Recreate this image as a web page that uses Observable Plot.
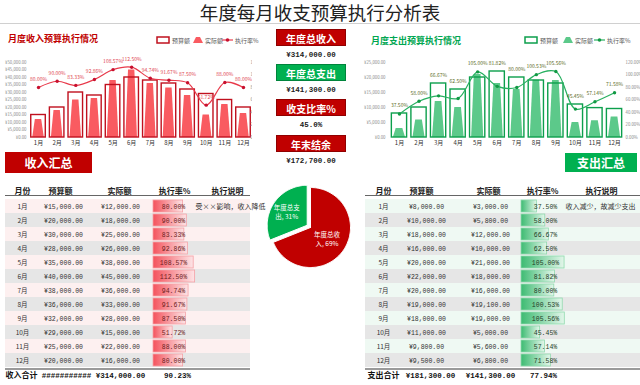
<!DOCTYPE html>
<html><head><meta charset="utf-8">
<script src="https://cdn.jsdelivr.net/npm/d3@7"></script>
<script src="https://cdn.jsdelivr.net/npm/@observablehq/plot@0.6"></script>
<style>
body{margin:0;width:640px;height:385px;background:#fff;position:relative;overflow:hidden;font-family:"Noto Sans CJK SC",sans-serif;}
.abs{position:absolute;}
.title{left:0;top:0;width:640px;text-align:center;font-size:18.5px;line-height:25px;color:#222;}
.hline{height:0;}
.ctitle{font-size:9px;font-weight:bold;line-height:13px;white-space:nowrap;}
.btn{color:#fff;text-align:center;font-size:12px;font-weight:bold;}
.kpi{left:276px;width:70px;height:17px;line-height:17px;color:#fff;text-align:center;font-size:10px;font-weight:bold;box-sizing:border-box;border:1px solid rgba(0,0,0,0.25);}
.kval{left:266px;width:90px;text-align:center;font-family:"Liberation Mono","Noto Sans CJK SC",monospace;font-weight:bold;font-size:7.5px;line-height:11px;color:#222;}
svg{display:block;}
</style></head><body>
<script>
// ---------------- data ----------------
const months = ["1月","2月","3月","4月","5月","6月","7月","8月","9月","10月","11月","12月"];
const incomeBudget = [15000,20000,30000,28000,35000,40000,38000,36000,32000,29000,25000,20000];
const incomeActual = [12000,18000,25000,26000,38000,45000,36000,33000,28000,15000,22000,16000];
const incomeNotes = ["受××影响，收入降低","","","","","","","","","","",""];
const expenseBudget = [8000,10000,18000,16000,20000,22000,20000,19000,18000,11000,9800,9500];
const expenseActual = [3000,5800,12000,10000,21000,18000,16000,19100,19000,5000,5600,6800];
const expenseNotes = ["收入减少，故减少支出","","","","","","","","","","",""];
const incomeTicks = [0,5000,10000,15000,20000,25000,30000,35000,40000,45000,50000];
const expenseTicks = [0,5000,10000,15000,20000,25000];
const rateTicks = [0,0.2,0.4,0.6,0.8,1.0,1.2];
const tableHeaders = ["月份","预算额","实际额","执行率%","执行说明"];
const pieNames = ["年度总收入","年度总支出"];

// ---------------- helpers ----------------
const CJK = '"Noto Sans CJK SC", sans-serif';
const MONO = '"Liberation Mono", "Noto Sans CJK SC", monospace';
const money = v => "¥" + d3.format(",.2f")(v);
const pct = r => (r * 100).toFixed(2) + "%";
function add(el, left, top) {
  el.style.position = "absolute"; el.style.left = left + "px"; el.style.top = top + "px";
  document.body.appendChild(el); return el;
}
function div(cls, html, css) {
  const d = document.createElement("div"); d.className = "abs " + cls; d.innerHTML = html;
  Object.assign(d.style, css || {}); document.body.appendChild(d); return d;
}
function addGradient(svg, id, c0, c1) {
  const ns = "http://www.w3.org/2000/svg";
  const defs = document.createElementNS(ns, "defs");
  const g = document.createElementNS(ns, "linearGradient");
  g.setAttribute("id", id); g.setAttribute("x1", "0"); g.setAttribute("x2", "1"); g.setAttribute("y1", "0"); g.setAttribute("y2", "0");
  [[0, c0], [1, c1]].forEach(([o, c]) => {
    const s = document.createElementNS(ns, "stop"); s.setAttribute("offset", o); s.setAttribute("stop-color", c); g.appendChild(s);
  });
  defs.appendChild(g); svg.insertBefore(defs, svg.firstChild);
}

const totalIncome = d3.sum(incomeActual);
const totalExpense = d3.sum(expenseActual);

// ---------------- static layout ----------------
div("title", "年度每月收支预算执行分析表");
div("hline", "", {left: "0px", top: "23px", width: "640px", borderTop: "1px solid #d0d0d0"});
div("ctitle", "月度收入预算执行情况", {left: "8px", top: "32px", color: "#c00000"});
div("ctitle", "月度支出预算执行情况", {left: "371px", top: "34px", color: "#00a651"});
div("btn", "收入汇总", {left: "5px", top: "152px", width: "87px", height: "21px", lineHeight: "21px", background: "#c00000"});
div("btn", "支出汇总", {left: "565px", top: "153px", width: "72px", height: "19px", lineHeight: "19px", background: "#00b050"});

// KPI boxes
const kpis = [
  {label: "年度总收入", color: "#c00000", value: money(totalIncome)},
  {label: "年度总支出", color: "#00b050", value: money(totalExpense)},
  {label: "收支比率%", color: "#c00000", value: (totalExpense / totalIncome * 100).toFixed(1) + "%"},
  {label: "年末结余", color: "#c00000", value: money(totalIncome - totalExpense)}
];
const kpiTops = [29, 64, 99, 135];
kpis.forEach((k, i) => {
  div("kpi", k.label, {top: kpiTops[i] + "px", background: k.color});
  div("kval", k.value, {top: (kpiTops[i] + 21) + "px"});
});

// legends
function legend(left, top, c, pos) {
  const s = `<svg width="125" height="12" style="overflow:visible">
    <rect x="${pos[0]}" y="3" width="12" height="6" fill="none" stroke="${c.budget}" stroke-width="1.5"/>
    <text x="${pos[1]}" y="9" font-size="6" fill="#595959">预算额</text>
    <path d="M${pos[2]} 9 L${pos[2]+3} 3 L${pos[2]+7} 3 L${pos[2]+10} 9 Z" fill="${c.actual}"/>
    <text x="${pos[3]}" y="9" font-size="6" fill="#595959">实际额</text>
    <line x1="${pos[4]}" x2="${pos[4]+11}" y1="6" y2="6" stroke="${c.line}" stroke-width="1.2"/>
    <circle cx="${pos[4]+5.5}" cy="6" r="1.8" fill="${c.dot}"/>
    <text x="${pos[5]}" y="9" font-size="6" fill="#595959">执行率%</text></svg>`;
  const d = document.createElement("div"); d.innerHTML = s; add(d, left, top);
}

// ---------------- month charts ----------------
function monthChart(o) {
  const rows = months.map((m, i) => ({i: i + 1, m, b: o.budget[i], a: o.actual[i], r: o.actual[i] / o.budget[i]}));
  const k = o.yMax / 1.2;
  const trap = rows.flatMap(d => [
    {m: d.m, x: d.i - 0.31, y: 0}, {m: d.m, x: d.i - 0.17, y: d.a},
    {m: d.m, x: d.i + 0.17, y: d.a}, {m: d.m, x: d.i + 0.31, y: 0}]);
  const labelY = d => o.labelMax ? Math.max(d.r * k, d.b) : d.r * k;
  const plot = Plot.plot({
    width: o.width, height: 100, marginTop: 12, marginBottom: 13,
    marginLeft: o.axisLeft, marginRight: o.width - o.axisRight,
    x: {type: "linear", domain: [0.5, 12.5], range: o.xRange},
    y: {domain: [0, o.yMax]},
    style: {background: "transparent", fontFamily: CJK, overflow: "hidden"},
    marks: [
      Plot.areaY(trap, {x: "x", y1: 0, y2: "y", z: "m", fill: o.c.actual, curve: "linear"}),
      Plot.rectY(rows, {x1: d => d.i - 0.39, x2: d => d.i + 0.39, y1: 0, y2: "b", fill: "none", stroke: o.c.budget, strokeWidth: 1.4}),
      Plot.line(rows, {x: "i", y: d => d.r * k, stroke: o.c.line, strokeWidth: 1.2, curve: "catmull-rom"}),
      Plot.dot(rows, {x: "i", y: d => d.r * k, r: 1.7, fill: o.c.dot, stroke: "none"}),
      Plot.text(rows, {x: "i", y: labelY, text: d => pct(d.r), dy: -8, fill: o.c.label, fontSize: 5}),
      Plot.axisY(o.yTicks, {anchor: "left", tickSize: 0, tickPadding: 2, fontSize: 4.3, fill: "#8a8a8a", tickFormat: money}),
      Plot.axisY(rateTicks.map(r => r * k), {anchor: "right", tickSize: 0, tickPadding: 2, fontSize: 4.3, fill: "#8a8a8a", tickFormat: v => pct(v / k)}),
      Plot.axisX(d3.range(1, 13), {tickSize: 0, tickPadding: 3, fontSize: 6, fill: "#333", tickFormat: i => months[i - 1]})
    ]
  });
  return plot;
}
const redC = {budget: "#c0101e", actual: "#f95b61", line: "#e8394a", dot: "#c8102e", label: "#e0454f"};
const greenC = {budget: "#0c9f4c", actual: "#5cc98a", line: "#28b060", dot: "#119944", label: "#5c6b25"};

add(monthChart({budget: incomeBudget, actual: incomeActual, yMax: 50000, yTicks: incomeTicks, width: 252,
  axisLeft: 28, axisRight: 248, xRange: [28.7, 252.3], c: redC, labelMax: false}), 0, 50);
add(monthChart({budget: expenseBudget, actual: expenseActual, yMax: 25000, yTicks: expenseTicks, width: 280,
  axisLeft: 27, axisRight: 263, xRange: [29.2, 263.8], c: greenC, labelMax: true}), 360, 50);
legend(150, 34, redC, [7, 22, 43, 55, 72, 85]);
legend(520, 34, greenC, [5, 20, 43, 55, 74, 87]);

// ---------------- tables ----------------
function table(o) {
  const rows = months.map((m, i) => ({m, b: o.budget[i], a: o.actual[i], r: o.actual[i] / o.budget[i], note: o.notes[i], odd: i % 2 === 0}));
  const sumB = d3.sum(o.budget), sumA = d3.sum(o.actual);
  const hdr = tableHeaders.map((t, i) => ({t, x: o.cols.header[i]}));
  const tot = [
    {t: o.budgetTotal ? o.budgetTotal : money(sumB), x: o.cols.tot[0]},
    {t: money(sumA), x: o.cols.tot[1]},
    {t: pct(sumA / sumB), x: o.cols.tot[2]}
  ];
  const txt = {fontSize: 6.5, fill: "#333"};
  const plot = Plot.plot({
    width: o.W, height: 207, margin: 0,
    x: {type: "linear", domain: [0, o.W], range: [0, o.W], axis: null},
    y: {type: "band", domain: months, range: [18, 191], padding: 0, axis: null},
    style: {background: "transparent", fontFamily: CJK, overflow: "visible"},
    marks: [
      Plot.barX(rows.filter(d => d.odd), {y: "m", x1: 5, x2: o.rowX2, fill: o.oddFill}),
      Plot.barX(rows.filter(d => !d.odd), {y: "m", x1: 5, x2: o.rowX2, fill: "#e6e6e6"}),
      Plot.barX(rows, {y: "m", x1: o.barStart, x2: d => o.barStart + d.r * o.barK, insetTop: 1, insetBottom: 1,
        fill: `url(#${o.gradId})`, stroke: o.barStroke, strokeWidth: 0.8}),
      Plot.text(rows, {y: "m", x: o.cols.month, text: "m", ...txt}),
      Plot.text(rows, {y: "m", x: o.cols.budget, text: d => money(d.b), fontFamily: MONO, ...txt}),
      Plot.text(rows, {y: "m", x: o.cols.actual, text: d => money(d.a), fontFamily: MONO, ...txt}),
      Plot.text(rows, {y: "m", x: o.cols.rate, text: d => pct(d.r), fontFamily: MONO, fontSize: 6.5, fill: o.rateColor}),
      Plot.text(rows, {y: "m", x: o.cols.note, text: "note", textAnchor: "start", fontSize: 7, fill: "#333"}),
      Plot.text(hdr, {x: "x", text: "t", frameAnchor: "top", dy: 10, fontSize: 8, fontWeight: "bold", fill: "#222"}),
      Plot.text([o.totalLabel], {x: o.cols.totLabel, text: d => d, frameAnchor: "bottom", dy: -8, textAnchor: "start", fontSize: 8, fontWeight: "bold", fill: "#111"}),
      Plot.text(tot, {x: "x", text: "t", frameAnchor: "bottom", dy: -8, fontFamily: MONO, fontSize: 7.5, fontWeight: "bold", fill: "#111"})
    ]
  });
  addGradient(plot, o.gradId, o.g0, o.g1);
  return plot;
}
add(table({budget: incomeBudget, actual: incomeActual, notes: incomeNotes, W: 265, rowX2: 250,
  cols: {month: 22, budget: 63, actual: 120, rate: 173, note: 195, header: [22, 60, 119, 174, 227], totLabel: 5, tot: [66, 120, 177]},
  barStart: 153, barK: 37, oddFill: "#fdf0f0", gradId: "gradRed", g0: "#f4525c", g1: "#fde4e6", barStroke: "#f5a0a5",
  rateColor: "#6b1c1c", totalLabel: "收入合计", budgetTotal: "###########"}), 0, 178);
add(table({budget: expenseBudget, actual: expenseActual, notes: expenseNotes, W: 280, rowX2: 280,
  cols: {month: 23, budget: 66, actual: 130, rate: 185, note: 205, header: [23, 61, 128, 182, 241], totLabel: 7, tot: [70, 130, 183]},
  barStart: 161, barK: 41, oddFill: "#eff9f3", gradId: "gradGreen", g0: "#3dbb72", g1: "#e3f6ea", barStroke: "#8fd9ad",
  rateColor: "#1e3d28", totalLabel: "支出合计"}), 360, 178);
div("hline", "", {left: "5px", top: "195px", width: "245px", borderTop: "1px solid #666"});
div("hline", "", {left: "365px", top: "195px", width: "275px", borderTop: "1px solid #666"});
div("hline", "", {left: "5px", top: "368px", width: "245px", borderTop: "2px solid #9a9a9a"});
div("hline", "", {left: "365px", top: "368px", width: "275px", borderTop: "2px solid #9a9a9a"});

// ---------------- pie ----------------
(function () {
  const vals = [totalIncome, totalExpense];
  const colors = ["#c00000", "#00b050"];
  const explode = [0, 0.1];
  const sum = d3.sum(vals);
  let a0 = 0;
  const slices = vals.map((v, j) => {
    const a1 = a0 + v / sum * 2 * Math.PI;
    const mid = (a0 + a1) / 2;
    const ox = explode[j] * Math.sin(mid), oy = explode[j] * Math.cos(mid);
    const n = Math.ceil((a1 - a0) / 0.03);
    const pts = [{x: ox, y: oy}];
    for (let s = 0; s <= n; s++) { const a = a0 + (a1 - a0) * s / n; pts.push({x: ox + Math.sin(a), y: oy + Math.cos(a)}); }
    pts.push({x: ox, y: oy});
    const lr = j === 0 ? 0.5 : 0.62;
    const s = {pts, color: colors[j], lx: ox + lr * Math.sin(mid), ly: oy + lr * Math.cos(mid),
      label: pieNames[j].slice(0, 4) + "\n" + pieNames[j].slice(4) + ", " + Math.round(v / sum * 100) + "%"};
    a0 = a1;
    return s;
  });
  const plot = Plot.plot({
    width: 88, height: 88, margin: 0,
    x: {domain: [-1.1, 1.1], range: [0, 88], axis: null},
    y: {domain: [-1.1, 1.1], range: [88, 0], axis: null},
    style: {background: "transparent", fontFamily: CJK, overflow: "visible"},
    marks: [
      ...slices.map(s => Plot.line(s.pts, {x: "x", y: "y", fill: s.color, stroke: "#fff", strokeWidth: 1, curve: "linear"})),
      Plot.text(slices, {x: "lx", y: "ly", text: "label", fill: "#fff", fontSize: 6.5, lineHeight: 1.4})
    ]
  });
  add(plot, 266, 183);
})();
</script>
</body></html>
